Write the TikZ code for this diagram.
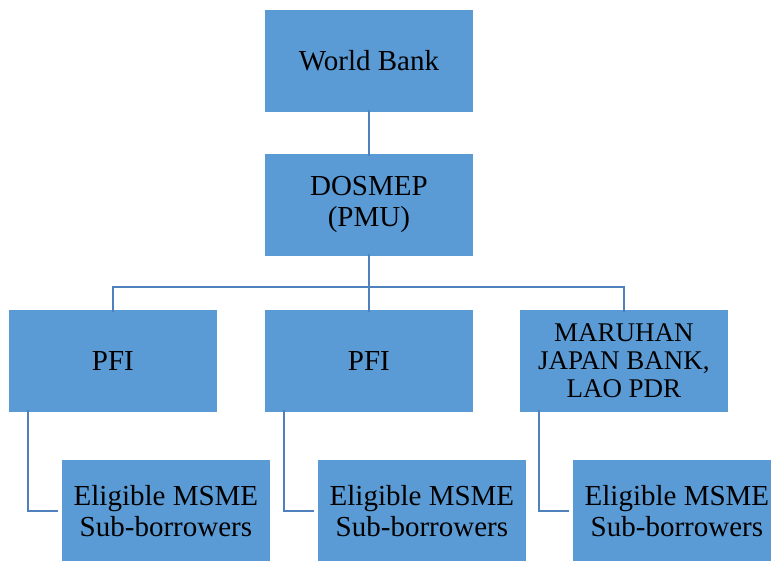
\documentclass[tikz,border=0pt]{standalone}
\usepackage{fontspec}
\setmainfont{Liberation Serif}
\definecolor{boxfill}{HTML}{5B9BD5}
\definecolor{linecol}{HTML}{4F81BD}
\begin{document}
\begin{tikzpicture}[x=1pt,y=-1pt,
  orgbox/.style={draw=white, line width=0.8pt, fill=boxfill, minimum width=209pt, minimum height=103pt, inner sep=0pt, align=center, font=\fontsize{29}{31}\selectfont, anchor=north west},
  conn/.style={draw=linecol, line width=2pt}]
\useasboundingbox (0,0) rectangle (771,561);
\begin{scope}
\clip (0,0) rectangle (771,561);
\node[orgbox] (wb) at (264,9) {World Bank};
\node[orgbox] (dos) at (264,153) {DOSMEP\\(PMU)};
\node[orgbox] (pfi1) at (8,309) {PFI};
\node[orgbox] (pfi2) at (264,309) {PFI};
\node[orgbox, font=\fontsize{27}{28}\selectfont] (mjb) at (519,309) {MARUHAN\\JAPAN BANK,\\LAO PDR};
\node[orgbox] (el1) at (61,459) {Eligible MSME\\Sub-borrowers};
\node[orgbox] (el2) at (317,459) {Eligible MSME\\Sub-borrowers};
\node[orgbox] (el3) at (572,459) {Eligible MSME\\Sub-borrowers};
\coordinate (bus) at (368,287);
\draw[conn] ([yshift=3pt]wb.south) -- ([yshift=-3pt]dos.north);
\draw[conn] ([yshift=3pt]dos.south) -- ([yshift=-3pt]pfi2.north);
\draw[conn] ([yshift=-3pt]pfi1.north) -- (pfi1.north |- bus) -- (mjb.north |- bus) -- ([yshift=-3pt]mjb.north);
\draw[conn] ([xshift=20pt,yshift=3pt]pfi1.south west) |- ([xshift=-3pt]el1.west);
\draw[conn] ([xshift=20pt,yshift=3pt]pfi2.south west) |- ([xshift=-3pt]el2.west);
\draw[conn] ([xshift=20pt,yshift=3pt]mjb.south west) |- ([xshift=-3pt]el3.west);
\end{scope}
\end{tikzpicture}
\end{document}
